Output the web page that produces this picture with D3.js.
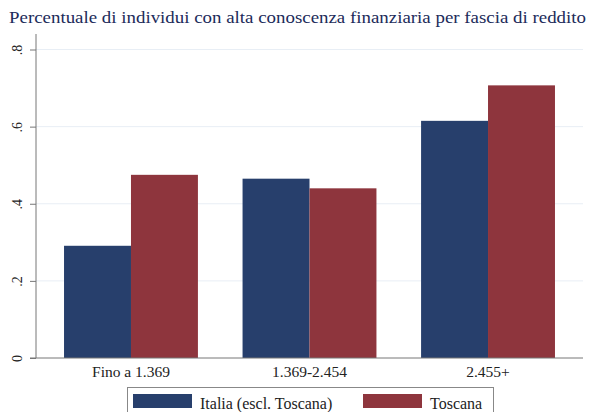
<!DOCTYPE html>
<html>
<head>
<meta charset="utf-8">
<script src="https://cdn.jsdelivr.net/npm/d3@7"></script>
<style>
  body { margin: 0; background: #fff; }
  svg { display: block; }
  text { font-family: "Liberation Serif", "DejaVu Serif", serif; }
</style>
</head>
<body>
<svg id="chart"></svg>
<script>
const categories = ['Fino a 1.369', '1.369-2.454', '2.455+'];
const seriesNames = ['Italia (escl. Toscana)', 'Toscana'];
const italia = [0.291, 0.465, 0.615];
const toscana = [0.475, 0.440, 0.707];
const yTicks = [0, 0.2, 0.4, 0.6, 0.8];
const yTickLabels = ['0', '.2', '.4', '.6', '.8'];

const w = 596; // svg width
const h = 412; // svg height
const plotLeft = 36; // plot left edge
const plotRight = 583; // plot right edge
const plotTop = 34; // top of y axis line
const plotBottom = 358; // baseline
const serif = '"Liberation Serif", "DejaVu Serif", serif';

const colors = ['#273f6c', '#8e353d'];

const svg = d3.select('#chart').attr('width', w).attr('height', h);

const x = d3.scaleBand()
  .domain(categories)
  .range([plotLeft, plotRight])
  .paddingInner(0.25)
  .paddingOuter(0.157);

const xInner = d3.scaleBand()
  .domain(seriesNames)
  .range([0, x.bandwidth()]);

const y = d3.scaleLinear()
  .domain([0, 0.8])
  .range([plotBottom, 49.5]);

// title
svg.append('text')
  .attr('x', 9)
  .attr('y', 23)
  .attr('fill', '#1c2b5a')
  .attr('font-family', serif)
  .attr('font-size', 17.5)
  .attr('textLength', 577)
  .attr('lengthAdjust', 'spacingAndGlyphs')
  .text('Percentuale di individui con alta conoscenza finanziaria per fascia di reddito');

// gridlines
svg.append('g')
  .selectAll('line')
  .data(yTicks.filter((d) => d > 0))
  .enter()
  .append('line')
  .attr('x1', plotLeft)
  .attr('x2', plotRight)
  .attr('y1', (d) => y(d))
  .attr('y2', (d) => y(d))
  .attr('stroke', '#e8eef5')
  .attr('stroke-width', 1);

// bars
const rows = categories.map((c, i) => ({ cat: c, vals: [italia[i], toscana[i]] }));
svg.append('g')
  .selectAll('g')
  .data(rows)
  .enter()
  .append('g')
  .attr('transform', (d) => 'translate(' + x(d.cat) + ',0)')
  .selectAll('rect')
  .data((d) => d.vals.map((v, j) => ({ name: seriesNames[j], v: v, j: j })))
  .enter()
  .append('rect')
  .attr('x', (d) => xInner(d.name))
  .attr('y', (d) => y(d.v))
  .attr('width', xInner.bandwidth())
  .attr('height', (d) => plotBottom - y(d.v))
  .attr('fill', (d) => colors[d.j]);

// y axis
const yAxis = d3.axisLeft(y)
  .tickValues(yTicks)
  .tickFormat((d, i) => yTickLabels[i])
  .tickSize(6)
  .tickPadding(6);
const gy = svg.append('g')
  .attr('transform', 'translate(' + plotLeft + ',0)')
  .call(yAxis)
  .attr('font-family', serif);
gy.select('.domain').remove();
gy.append('line')
  .attr('x1', 0).attr('x2', 0)
  .attr('y1', plotTop).attr('y2', plotBottom)
  .attr('stroke', '#777');
gy.selectAll('.tick line').attr('stroke', '#777');
gy.selectAll('.tick text')
  .attr('font-size', 14)
  .attr('fill', '#222')
  .attr('text-anchor', 'middle')
  .attr('dy', null)
  .attr('x', 0)
  .attr('y', 0)
  .attr('transform', 'translate(-17,0) rotate(-90)')
  .attr('dominant-baseline', 'middle');

// x axis
const xAxis = d3.axisBottom(x).tickSize(0).tickPadding(8);
const gx = svg.append('g')
  .attr('transform', 'translate(0,' + plotBottom + ')')
  .call(xAxis)
  .attr('font-family', serif);
gx.select('.domain').remove();
gx.append('line')
  .attr('x1', plotLeft - 6).attr('x2', plotRight)
  .attr('y1', 0).attr('y2', 0)
  .attr('stroke', '#777');
gx.selectAll('.tick text')
  .attr('font-size', 15.5)
  .attr('fill', '#222');

// legend
const legend = svg.append('g');
legend.append('rect')
  .attr('x', 127.5)
  .attr('y', 387.5)
  .attr('width', 366)
  .attr('height', 40)
  .attr('fill', '#fff')
  .attr('stroke', '#888');
const legX = [133, 363];
const legTextX = [200, 430];
seriesNames.forEach((name, i) => {
  legend.append('rect')
    .attr('x', legX[i])
    .attr('y', 394)
    .attr('width', 59)
    .attr('height', 14)
    .attr('fill', colors[i]);
  legend.append('text')
    .attr('x', legTextX[i])
    .attr('y', 409)
    .attr('font-family', serif)
    .attr('font-size', 16)
    .attr('fill', '#222')
    .text(name);
});
</script>
</body>
</html>
